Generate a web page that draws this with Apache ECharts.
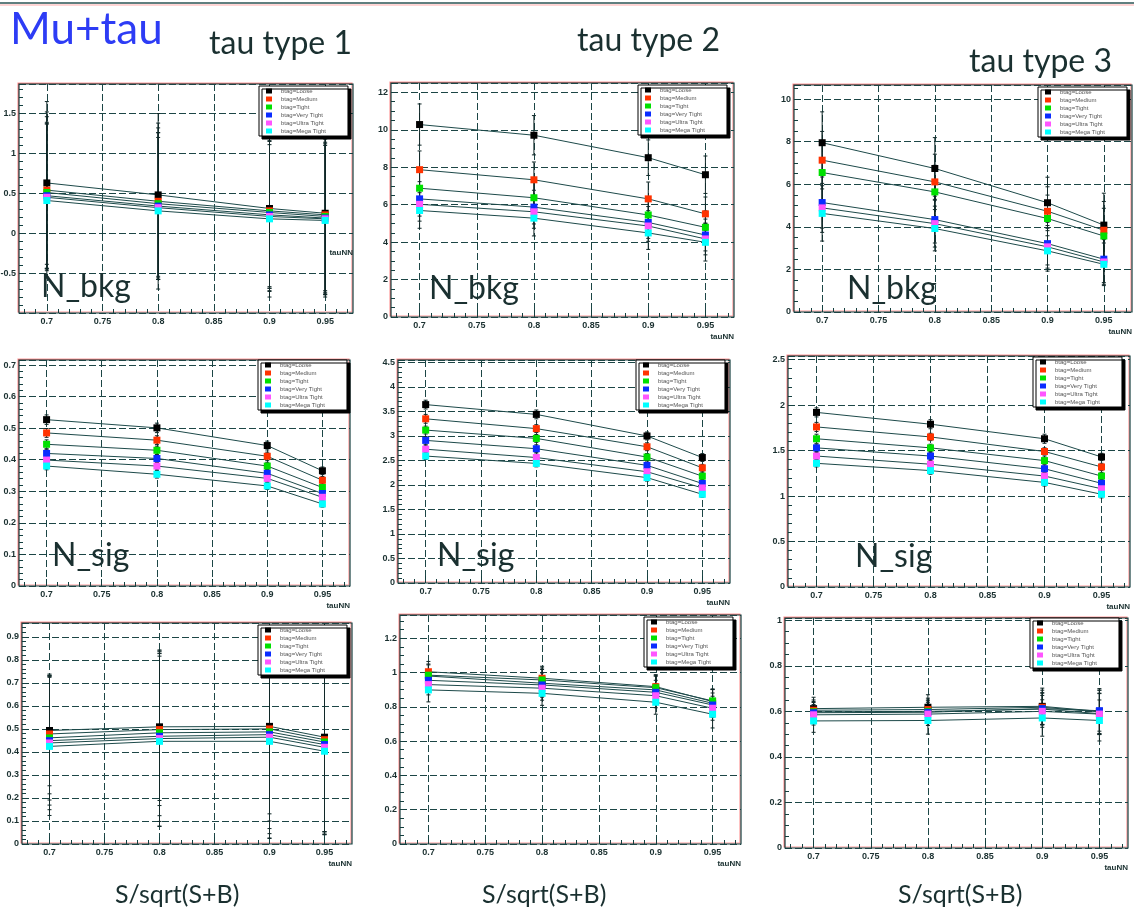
<!DOCTYPE html>
<html><head><meta charset="utf-8">
<script src="https://cdn.jsdelivr.net/npm/echarts@6/dist/echarts.min.js"></script>
<style>html,body{margin:0;padding:0;background:#fff}#c{width:1134px;height:912px}</style>
</head><body><div id="c"></div>
<script>
// ---------------- data ----------------
const tauNNCuts = [0.7, 0.8, 0.9, 0.95];
const btagNames = ['btag=Loose','btag=Medium','btag=Tight','btag=Very Tight','btag=Ultra Tight','btag=Mega Tight'];
const xMajorTicks = [0.7, 0.75, 0.8, 0.85, 0.9, 0.95];
const xMinorTicks = [0.68,0.69,0.71,0.72,0.73,0.74,0.76,0.77,0.78,0.79,0.81,0.82,0.83,0.84,0.86,0.87,0.88,0.89,0.91,0.92,0.93,0.94,0.96,0.97];

// N_bkg, tau type 1/2/3 (rows: Loose, Medium, Tight, Very Tight, Ultra Tight, Mega Tight)
const nbkgT1 = [[0.63,0.48,0.31,0.25],[0.54,0.40,0.28,0.23],[0.51,0.37,0.26,0.21],[0.47,0.34,0.23,0.19],[0.45,0.32,0.21,0.18],[0.41,0.28,0.18,0.16]];
const nbkgT1Err = [[1.02,1.02,1.04,1.02],[0.98,0.98,0.95,0.95],[0.95,0.95,0.98,0.98],[0.92,0.92,0.92,0.95],[0.92,0.88,0.90,0.92],[0.96,0.98,0.98,0.96]];
const nbkgT2 = [[10.28,9.71,8.51,7.60],[7.87,7.33,6.31,5.51],[6.88,6.37,5.45,4.79],[6.31,5.87,5.05,4.38],[6.02,5.62,4.86,4.17],[5.69,5.28,4.49,3.99]];
const nbkgT2Err = [[1.10,1.05,0.95,1.00],[1.00,0.95,0.90,0.90],[0.95,0.90,0.85,0.88],[0.92,0.90,0.85,0.85],[0.90,0.88,0.82,0.85],[0.95,0.95,0.88,1.00]];
const nbkgT3 = [[7.95,6.74,5.13,4.08],[7.13,6.11,4.73,3.84],[6.55,5.64,4.39,3.57],[5.14,4.34,3.21,2.48],[4.89,4.15,3.06,2.35],[4.63,3.92,2.87,2.24]];
const nbkgT3Err = [[1.45,1.45,1.20,1.50],[1.35,1.30,1.15,1.35],[1.30,1.25,1.10,1.30],[1.20,1.10,1.00,1.10],[1.15,1.10,1.00,1.05],[1.30,1.05,0.95,1.00]];
// N_sig
const nsigT1 = [[0.527,0.501,0.445,0.365],[0.485,0.462,0.411,0.335],[0.449,0.430,0.380,0.312],[0.420,0.404,0.357,0.293],[0.399,0.380,0.341,0.281],[0.380,0.354,0.317,0.260]];
const nsigT1Err = [[0.015,0.015,0.014,0.012],[0.014,0.014,0.013,0.012],[0.014,0.013,0.012,0.011],[0.013,0.013,0.012,0.011],[0.013,0.012,0.011,0.010],[0.012,0.012,0.011,0.010]];
const nsigT2 = [[3.64,3.44,3.00,2.56],[3.35,3.15,2.78,2.35],[3.12,2.95,2.57,2.18],[2.91,2.74,2.40,2.03],[2.73,2.56,2.27,1.94],[2.59,2.44,2.15,1.81]];
const nsigT2Err = [[0.09,0.09,0.08,0.08],[0.09,0.08,0.08,0.07],[0.08,0.08,0.07,0.07],[0.08,0.08,0.07,0.07],[0.08,0.07,0.07,0.06],[0.07,0.07,0.07,0.06]];
const nsigT3 = [[1.92,1.79,1.63,1.43],[1.76,1.65,1.49,1.32],[1.63,1.53,1.39,1.22],[1.53,1.44,1.30,1.14],[1.44,1.35,1.22,1.08],[1.36,1.28,1.15,1.02]];
const nsigT3Err = [[0.05,0.05,0.05,0.04],[0.05,0.04,0.04,0.04],[0.05,0.04,0.04,0.04],[0.04,0.04,0.04,0.04],[0.04,0.04,0.04,0.04],[0.04,0.04,0.04,0.04]];
// S/sqrt(S+B)
const ssbT1 = [[0.493,0.509,0.511,0.464],[0.478,0.497,0.500,0.453],[0.461,0.483,0.487,0.443],[0.449,0.468,0.475,0.432],[0.439,0.458,0.464,0.420],[0.424,0.446,0.446,0.403]];
const ssbT1Err = [[0.24,0.32,0.38,0.41],[0.26,0.33,0.40,0.40],[0.27,0.36,0.42,0.40],[0.28,0.37,0.43,0.39],[0.29,0.38,0.44,0.38],[0.30,0.37,0.42,0.35]];
const ssbT2 = [[0.980,0.938,0.899,0.821],[1.005,0.967,0.918,0.831],[0.985,0.957,0.912,0.835],[0.955,0.928,0.885,0.811],[0.930,0.909,0.865,0.792],[0.899,0.879,0.827,0.757]];
const ssbT2Err = [[0.07,0.08,0.08,0.08],[0.06,0.07,0.07,0.07],[0.06,0.07,0.07,0.07],[0.06,0.07,0.07,0.07],[0.06,0.07,0.07,0.07],[0.07,0.07,0.07,0.08]];
const ssbT3 = [[0.612,0.618,0.622,0.600],[0.605,0.608,0.618,0.598],[0.598,0.600,0.610,0.590],[0.594,0.596,0.612,0.603],[0.585,0.588,0.600,0.588],[0.558,0.560,0.571,0.560]];
const ssbT3Err = [[0.050,0.055,0.080,0.100],[0.045,0.050,0.075,0.095],[0.045,0.050,0.070,0.090],[0.045,0.050,0.070,0.090],[0.045,0.050,0.070,0.090],[0.050,0.060,0.080,0.090]];

// y tick labels
const yLabelsNbkgT1 = [-0.5, 0, 0.5, 1, 1.5];
const yLabelsNbkgT2 = [0, 2, 4, 6, 8, 10, 12];
const yLabelsNbkgT3 = [0, 2, 4, 6, 8, 10];
const yLabelsNsigT1 = [0, 0.1, 0.2, 0.3, 0.4, 0.5, 0.6, 0.7];
const yLabelsNsigT2 = [0, 0.5, 1, 1.5, 2, 2.5, 3, 3.5, 4, 4.5];
const yLabelsNsigT3 = [0, 0.5, 1, 1.5, 2, 2.5];
const yLabelsSsbT1 = [0, 0.1, 0.2, 0.3, 0.4, 0.5, 0.6, 0.7, 0.8, 0.9];
const yLabelsSsbT2 = [0, 0.2, 0.4, 0.6, 0.8, 1, 1.2];
const yLabelsSsbT3 = [0, 0.2, 0.4, 0.6, 0.8, 1];

// ---------------- styling / layout ----------------
const btagColors = ['#000000','#ff3300','#00e000','#0a2cff','#ff55ff','#00ffff'];
const frameC = '#143f3f', gridC = '#1c4545', lineC = '#1d4a4a', textC = '#1a3030';
const fringe = 'rgba(255,70,70,0.55)';
const panels = [
  {v:nbkgT1,e:nbkgT1Err,lab:yLabelsNbkgT1,min:-1,max:1.87,iv:0.5,mn:5,g:[19,84,334,229],lg:[259,86]},
  {v:nbkgT2,e:nbkgT2Err,lab:yLabelsNbkgT2,min:0,max:12.5,iv:2,mn:4,g:[391,83,343,234],lg:[638,85]},
  {v:nbkgT3,e:nbkgT3Err,lab:yLabelsNbkgT3,min:0,max:10.66,iv:2,mn:4,g:[794,85,338,227],lg:[1038,87]},
  {v:nsigT1,e:nsigT1Err,lab:yLabelsNsigT1,min:0,max:0.716,iv:0.1,mn:5,g:[19,360,331,226],lg:[258,360]},
  {v:nsigT2,e:nsigT2Err,lab:yLabelsNsigT2,min:0,max:4.55,iv:0.5,mn:5,g:[398,360,332,223],lg:[636,360]},
  {v:nsigT3,e:nsigT3Err,lab:yLabelsNsigT3,min:0,max:2.54,iv:0.5,mn:5,g:[788,356,342,231],lg:[1033,357]},
  {v:ssbT1,e:ssbT1Err,lab:yLabelsSsbT1,min:0,max:0.96,iv:0.1,mn:5,g:[22,623,330,221],lg:[258,625]},
  {v:ssbT2,e:ssbT2Err,lab:yLabelsSsbT2,min:0,max:1.336,iv:0.2,mn:4,g:[400,615,341,229],lg:[644,617]},
  {v:ssbT3,e:ssbT3Err,lab:yLabelsSsbT3,min:0,max:1.01,iv:0.2,mn:4,g:[785,618,343,230],lg:[1030,618]}
];

const tickFont = {fontSize:9, fontWeight:'bold', color:textC, fontFamily:'Liberation Sans'};
const gridLine = {show:true, lineStyle:{type:[7,3], color:gridC, width:1}};
const grids=[], xAxes=[], yAxes=[], legends=[], series=[];

function renderErr(params, api){
  const x=api.value(0), y=api.value(1), e=api.value(2);
  const hi=api.coord([x,y+e]), lo=api.coord([x,y-e]);
  const st={stroke:'#102828', lineWidth:1};
  return {type:'group', children:[
    {type:'line', shape:{x1:hi[0],y1:hi[1],x2:lo[0],y2:lo[1]}, style:st},
    {type:'line', shape:{x1:hi[0]-2,y1:hi[1],x2:hi[0]+2,y2:hi[1]}, style:st},
    {type:'line', shape:{x1:lo[0]-2,y1:lo[1],x2:lo[0]+2,y2:lo[1]}, style:st}
  ]};
}

panels.forEach((p,i)=>{
  grids.push({left:p.g[0], top:p.g[1], width:p.g[2], height:p.g[3], show:true,
    borderColor:frameC, borderWidth:1.2, backgroundColor:'#fff', containLabel:false, outerBoundsMode:'none',
    shadowColor:fringe, shadowOffsetX:-1, shadowOffsetY:-1, shadowBlur:0});
  xAxes.push({type:'value', gridIndex:i, min:0.675, max:0.975, position:'bottom',
    axisLine:{show:false},
    axisTick:{show:true, inside:true, length:7, customValues:xMajorTicks, lineStyle:{color:frameC}},
    axisLabel:Object.assign({customValues:xMajorTicks, margin:4}, tickFont),
    splitLine:gridLine,
    name:'tauNN', nameLocation:'end', nameGap:0, nameMoveOverlap:false,
    nameTextStyle:{fontSize:8, fontWeight:'bold', color:textC, fontFamily:'Liberation Sans', align:'right', verticalAlign:'top', padding:[16,0,0,0]}
  });
  xAxes.push({type:'value', gridIndex:i, min:0.675, max:0.975, position:'bottom',
    axisLine:{show:false}, axisLabel:{show:false}, splitLine:{show:false},
    axisTick:{show:true, inside:true, length:4, customValues:xMinorTicks, lineStyle:{color:frameC}}
  });
  yAxes.push({type:'value', gridIndex:i, min:p.min, max:p.max, interval:p.iv,
    axisLine:{show:false},
    axisTick:{show:true, inside:true, length:7, lineStyle:{color:frameC}},
    minorTick:{show:true, splitNumber:p.mn, length:4, lineStyle:{color:frameC}},
    axisLabel:Object.assign({customValues:p.lab, margin:3}, tickFont),
    splitLine:gridLine
  });
  legends.push({orient:'vertical', left:p.lg[0], top:p.lg[1], itemWidth:6, itemHeight:5, itemGap:2,
    icon:'rect', padding:[2,22,2,7], backgroundColor:'#fff', borderColor:'#000', borderWidth:1,
    shadowColor:'#000', shadowOffsetX:3, shadowOffsetY:3, shadowBlur:0, selectedMode:false,
    textStyle:{fontSize:6, color:'#555', padding:[0,0,0,4], fontFamily:'Liberation Sans'}, data:btagNames, z:10});
  const errData=[];
  p.v.forEach((row,s)=>row.forEach((val,k)=>errData.push([tauNNCuts[k], val, p.e[s][k]])));
  series.push({type:'custom', xAxisIndex:2*i, yAxisIndex:i, data:errData, encode:{x:0,y:1},
    renderItem:renderErr, silent:true, z:2});
  p.v.forEach((row,s)=>{
    series.push({type:'line', name:btagNames[s], xAxisIndex:2*i, yAxisIndex:i,
      data:row.map((val,k)=>[tauNNCuts[k], val]), symbol:'rect', symbolSize:7, showSymbol:true,
      lineStyle:{color:lineC, width:1}, itemStyle:{color:btagColors[s]}, z:3, silent:true});
  });
});

const bigFont = 'Lato';
function txt(t, x, y, size, color){
  return {type:'text', left:x, top:y, silent:true, z:20,
    style:{text:t, font:'normal '+size+'px '+bigFont, fill:color}};
}
const graphics = [
  {type:'line', shape:{x1:0,y1:3,x2:1134,y2:3}, style:{stroke:'#2b5555', lineWidth:1.5}, silent:true},
  {type:'line', shape:{x1:0,y1:5,x2:1134,y2:5}, style:{stroke:'rgba(255,90,90,0.5)', lineWidth:1}, silent:true},
  txt('Mu+tau', 10, 8, 44, '#2d3cf5'),
  txt('tau type 1', 209, 28, 32, textC),
  txt('tau type 2', 577, 25, 32, textC),
  txt('tau type 3', 969, 46, 32, textC),
  txt('N_bkg', 41, 271, 32, textC),
  txt('N_bkg', 429, 273, 32, textC),
  txt('N_bkg', 847, 273, 32, textC),
  txt('N_sig', 52, 540, 32, textC),
  txt('N_sig', 437, 540, 32, textC),
  txt('N_sig', 855, 541, 32, textC),
  txt('S/sqrt(S+B)', 115, 882, 25, textC),
  txt('S/sqrt(S+B)', 482, 882, 25, textC),
  txt('S/sqrt(S+B)', 898, 882, 25, textC)
];

const chart = echarts.init(document.getElementById('c'), null, {renderer:'canvas'});
chart.setOption({
  animation:false, backgroundColor:'#fff',
  textStyle:{fontFamily:'Liberation Sans'},
  grid:grids, xAxis:xAxes, yAxis:yAxes, legend:legends, series:series, graphic:graphics
});
</script></body></html>
